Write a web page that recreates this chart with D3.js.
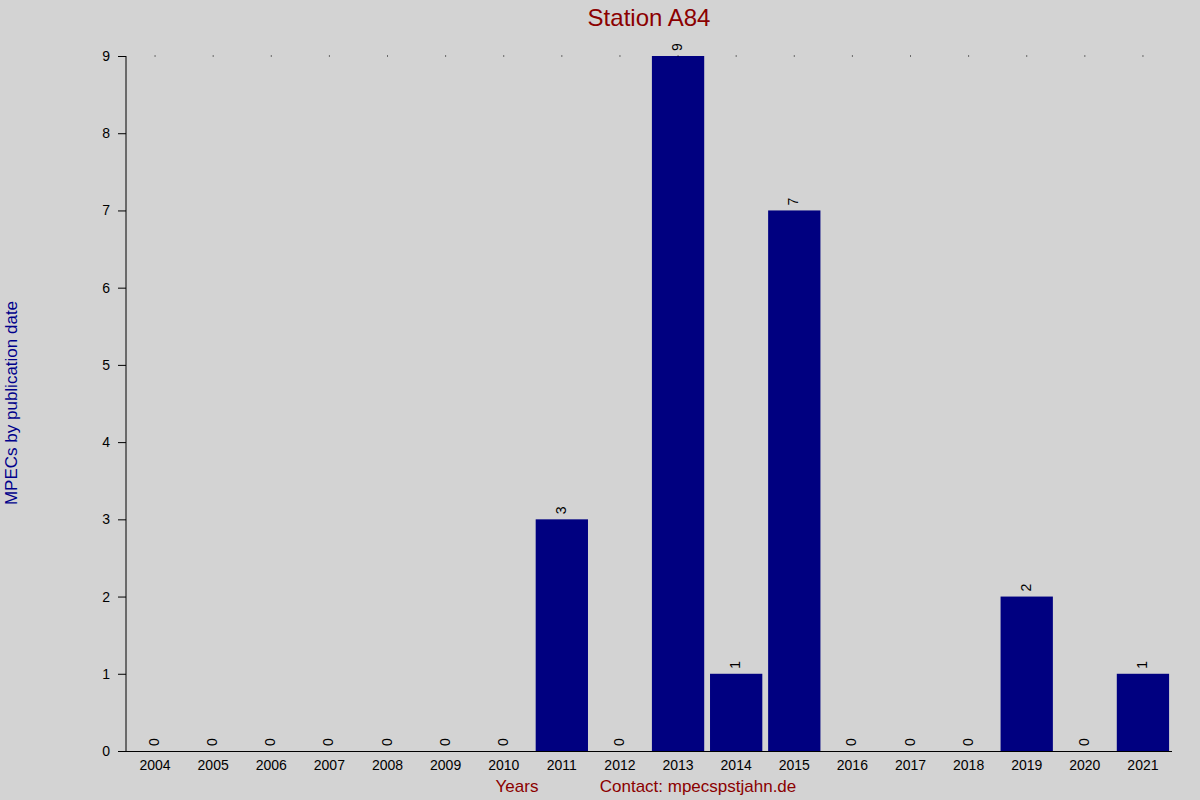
<!DOCTYPE html>
<html><head><meta charset="utf-8">
<script src="https://cdn.jsdelivr.net/npm/d3@7"></script>
<style>body{margin:0;background:#d3d3d3}</style></head><body>
<script>
const years = ["2004","2005","2006","2007","2008","2009","2010","2011","2012","2013","2014","2015","2016","2017","2018","2019","2020","2021"];
const counts = [0,0,0,0,0,0,0,3,0,9,1,7,0,0,0,2,0,1];
const yTicks = [0,1,2,3,4,5,6,7,8,9];

const W=1200,H=800,L=126,R=1172,T=56,B=751;
const svg=d3.select("body").append("svg").attr("width",W).attr("height",H).style("font-family","Liberation Sans, Arial, sans-serif");
svg.append("rect").attr("width",W).attr("height",H).attr("fill","#d3d3d3");
const x=d3.scaleBand().domain(years).range([L,R]).paddingInner(0.1).paddingOuter(0.05);
const y=d3.scaleLinear().domain([0,9]).range([B,T]);

svg.selectAll(".bar").data(years).join("rect")
 .attr("x",d=>x(d)).attr("width",x.bandwidth())
 .attr("y",(d,i)=>y(counts[i])).attr("height",(d,i)=>B-y(counts[i]))
 .attr("fill","#000080");
svg.selectAll(".dot").data(years).join("rect")
 .attr("x",d=>x(d)+x.bandwidth()/2-0.5).attr("y",T-0.5).attr("width",1).attr("height",1).attr("fill","#000");
svg.selectAll(".val").data(years).join("text")
 .attr("transform",(d,i)=>`translate(${x(d)+x.bandwidth()/2+4},${y(counts[i])-5}) rotate(-90)`)
 .attr("font-size",14).attr("fill","#000").text((d,i)=>counts[i]);

// axes
svg.append("line").attr("x1",L).attr("x2",L).attr("y1",T).attr("y2",B).attr("stroke","#000");
svg.append("line").attr("x1",118).attr("x2",R).attr("y1",B+0.5).attr("y2",B+0.5).attr("stroke","#000");
yTicks.forEach(t=>{
 svg.append("line").attr("x1",118).attr("x2",L).attr("y1",y(t)+0.5).attr("y2",y(t)+0.5).attr("stroke","#000");
 svg.append("text").attr("x",110).attr("y",y(t)+5).attr("text-anchor","end").attr("font-size",14).text(t);
});
svg.selectAll(".xl").data(years).join("text")
 .attr("x",d=>x(d)+x.bandwidth()/2).attr("y",770).attr("text-anchor","middle").attr("font-size",14).text(d=>d);

svg.append("text").attr("x",649).attr("y",26).attr("text-anchor","middle").attr("font-size",24).attr("fill","#8b0000").text("Station A84");
svg.append("text").attr("x",517).attr("y",792).attr("text-anchor","middle").attr("font-size",17).attr("fill","#8b0000").text("Years");
svg.append("text").attr("x",698).attr("y",792).attr("text-anchor","middle").attr("font-size",17).attr("fill","#8b0000").text("Contact: mpecspstjahn.de");
svg.append("text").attr("transform","translate(17,403) rotate(-90)").attr("text-anchor","middle").attr("font-size",17).attr("fill","#00008b").text("MPECs by publication date");
</script></body></html>
